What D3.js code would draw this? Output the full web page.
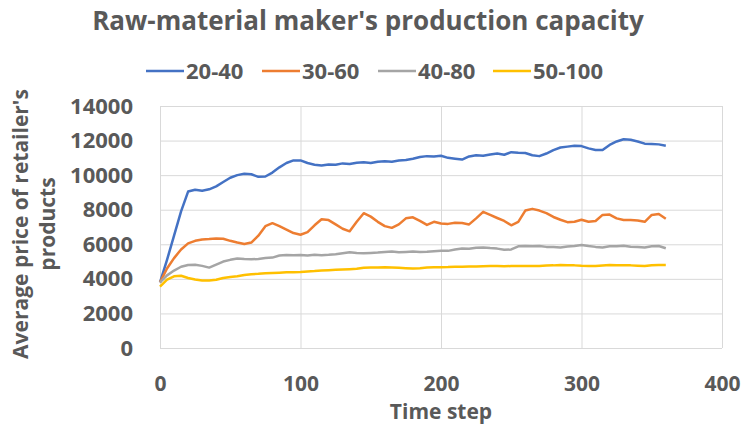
<!DOCTYPE html>
<html>
<head>
<meta charset="utf-8">
<script src="https://cdn.jsdelivr.net/npm/d3@7"></script>
<style>
  html, body { margin: 0; padding: 0; background: #fff; }
  svg { display: block; }
  text { font-family: "Open Sans", "Noto Sans", sans-serif; font-weight: 700; fill: #595959; }
</style>
</head>
<body>
<svg id="chart" width="746" height="431"></svg>
<script>
const title = "Raw-material maker's production capacity";
const xTitle = "Time step";
const yTitleLines = ["Average price of retailer's", "products"];
const seriesNames = ["20-40", "30-60", "40-80", "50-100"];
const seriesColors = ["#4472C4", "#ED7D31", "#A5A5A5", "#FFC000"];
const xTicks = [0, 100, 200, 300, 400];
const yTicks = [0, 2000, 4000, 6000, 8000, 10000, 12000, 14000];
const timeSteps = d3.range(0, 361, 5);

const s20_40 = [3800,5100,6500,7900,9050,9150,9100,9180,9350,9600,9850,10000,10080,10050,9900,9920,10150,10450,10700,10850,
  10850,10700,10600,10560,10620,10600,10680,10650,10720,10750,10700,10780,10800,10780,10850,10880,10950,11050,11100,11080,
  11120,11000,10950,10900,11080,11150,11120,11200,11250,11180,11330,11300,11280,11150,11100,11250,11450,11600,11650,11700,
  11680,11550,11450,11460,11750,11950,12080,12050,11950,11820,11800,11780,11700];
const s30_60 = [3800,4600,5200,5700,6050,6200,6280,6300,6340,6320,6200,6100,6020,6100,6500,7050,7220,7050,6850,6650,
  6550,6700,7100,7450,7400,7150,6900,6750,7300,7800,7600,7300,7050,6950,7150,7500,7560,7350,7120,7300,
  7200,7180,7250,7230,7150,7500,7880,7700,7520,7350,7100,7300,7950,8050,7950,7800,7580,7420,7280,7300,
  7420,7300,7350,7700,7720,7500,7400,7400,7380,7300,7700,7750,7480];
const s40_80 = [3800,4200,4480,4700,4800,4820,4750,4650,4820,5000,5100,5180,5150,5130,5150,5200,5230,5350,5380,5360,
  5380,5350,5400,5370,5390,5420,5480,5540,5500,5480,5500,5520,5560,5580,5540,5560,5580,5550,5570,5600,
  5630,5620,5700,5760,5740,5800,5820,5780,5750,5680,5700,5880,5900,5880,5900,5850,5840,5820,5870,5900,
  5960,5900,5850,5820,5880,5880,5920,5860,5840,5820,5880,5900,5770];
const s50_100 = [3550,3950,4150,4180,4050,3960,3900,3910,3950,4050,4110,4150,4220,4270,4290,4320,4340,4360,4380,4380,
  4400,4430,4450,4480,4500,4520,4540,4560,4580,4640,4660,4660,4670,4660,4640,4620,4600,4620,4650,4670,
  4670,4680,4700,4700,4710,4720,4730,4740,4740,4730,4740,4750,4740,4740,4750,4770,4780,4800,4790,4780,
  4760,4750,4740,4770,4800,4790,4780,4780,4760,4740,4790,4800,4800];
const seriesValues = [s20_40, s30_60, s40_80, s50_100];

const svg = d3.select("#chart");
const plot = { left: 160, right: 722, top: 106, bottom: 348 };

const x = d3.scaleLinear().domain([0, 400]).range([plot.left, plot.right]);
const y = d3.scaleLinear().domain([0, 14000]).range([plot.bottom, plot.top]);

svg.append("g")
  .attr("transform", `translate(${plot.left},0)`)
  .call(d3.axisLeft(y).tickValues(yTicks).tickSize(-(plot.right - plot.left)).tickFormat(""))
  .call(g => g.select(".domain").remove())
  .call(g => g.selectAll("line").attr("stroke", "#D9D9D9").attr("stroke-width", 1));

svg.append("g")
  .attr("transform", `translate(0,${plot.bottom})`)
  .call(d3.axisBottom(x).tickValues(xTicks).tickSize(-(plot.bottom - plot.top)).tickFormat(""))
  .call(g => g.select(".domain").remove())
  .call(g => g.selectAll("line").attr("stroke", "#D9D9D9").attr("stroke-width", 1));

svg.append("g")
  .attr("transform", `translate(${plot.left},0)`)
  .call(d3.axisLeft(y).tickValues(yTicks).tickSize(0).tickPadding(27).tickFormat(d3.format("d")))
  .call(g => g.select(".domain").remove())
  .call(g => g.selectAll("text").style("font-size", "22px").attr("fill", "#595959")
     .style("font-family", '"Open Sans", sans-serif').style("font-weight", "700"));

svg.append("g")
  .attr("transform", `translate(0,${plot.bottom})`)
  .call(d3.axisBottom(x).tickValues(xTicks).tickSize(0).tickPadding(28).tickFormat(d3.format("d")))
  .call(g => g.select(".domain").remove())
  .call(g => g.selectAll("text").style("font-size", "21px").attr("fill", "#595959")
     .style("font-family", '"Open Sans", sans-serif').style("font-weight", "700"));

const line = d3.line().x((d, i) => x(timeSteps[i])).y(d => y(d)).curve(d3.curveLinear);
seriesValues.forEach((vals, k) => {
  svg.append("path")
    .datum(vals)
    .attr("fill", "none")
    .attr("stroke", seriesColors[k])
    .attr("stroke-width", 2.5)
    .attr("stroke-linejoin", "round")
    .attr("d", line);
});

svg.append("text")
  .attr("x", 368).attr("y", 30)
  .attr("text-anchor", "middle")
  .style("font-size", "26px")
  .text(title);

const legendX = [146, 262, 378, 493];
const legend = svg.append("g");
seriesNames.forEach((name, k) => {
  const gx = legendX[k];
  legend.append("line")
    .attr("x1", gx).attr("x2", gx + 38)
    .attr("y1", 71).attr("y2", 71)
    .attr("stroke", seriesColors[k]).attr("stroke-width", 2.5);
  legend.append("text")
    .attr("x", gx + 40).attr("y", 79)
    .style("font-size", "22px")
    .text(name);
});

svg.append("text")
  .attr("x", 441).attr("y", 419)
  .attr("text-anchor", "middle")
  .style("font-size", "21px")
  .text(xTitle);

yTitleLines.forEach((t, i) => {
  svg.append("text")
    .attr("transform", `translate(${28 + i * 27},224) rotate(-90)`)
    .attr("text-anchor", "middle")
    .style("font-size", "21px")
    .text(t);
});
</script>
</body>
</html>
